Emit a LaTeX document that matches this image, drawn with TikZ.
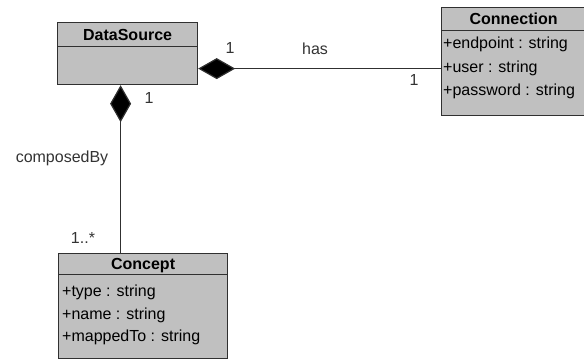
\documentclass[tikz,border=0pt]{standalone}
\usepackage{fontspec}
\setmainfont{Liberation Sans}
\usetikzlibrary{arrows.meta}

\definecolor{umlgray}{HTML}{C0C0C0}
\definecolor{umlline}{HTML}{303030}

\begin{document}
\begin{tikzpicture}[x=1pt,y=-1pt]
    \tikzstyle{head}=[draw=umlline, line width=1.2pt, fill=umlgray, anchor=north west, inner sep=0, text height=11.5pt, text depth=0pt, font=\fontsize{16}{19}\selectfont\bfseries];
    \tikzstyle{body}=[draw=umlline, line width=1.2pt, fill=umlgray, anchor=north west, inner sep=0];
    \tikzstyle{attr}=[anchor=base west, inner sep=0, font=\fontsize{16}{19}\selectfont];
    \tikzstyle{lbl}=[inner sep=0, text=black!80, font=\fontsize{16}{19}\selectfont];
    \tikzstyle{comp}=[draw=umlline, line width=1.2pt, {Diamond[length=37pt,width=21pt,fill=black]}-];

    \useasboundingbox (0,0) rectangle (584,360);

    % classes
    \node[head, minimum width=140pt, minimum height=24pt] at (57,22) (dsHead) {DataSource};
    \node[body, minimum width=140pt, minimum height=38pt] at (57,46) (dsBody) {};

    \node[head, minimum width=144pt, minimum height=23pt] at (441,7) (connHead) {Connection};
    \node[body, minimum width=144pt, minimum height=85pt] at (441,30) (connBody) {};
    \foreach \attr [count=\i] in {+endpoint : string, +user : string, +password : string}
        \node[attr] at (443, 25+23.5*\i) (connAttr\i) {\attr};

    \node[head, minimum width=169pt, minimum height=21pt] at (58,253) (conceptHead) {Concept};
    \node[body, minimum width=169pt, minimum height=84pt] at (58,274) (conceptBody) {};
    \foreach \attr [count=\i] in {+type : string, +name : string, +mappedTo : string}
        \node[attr] at (62, 274+22.5*\i) (conceptAttr\i) {\attr};

    % associations
    \draw[comp] ([yshift=-3pt]dsBody.east) -- ([yshift=-3pt]dsBody.east -| connBody.west);
    \draw[comp] ([xshift=-7pt]dsBody.south) -- ([xshift=-7pt]dsBody.south |- conceptHead.north);

    \node[lbl] at (230,48) (hasSrc) {1};
    \node[lbl] at (315,49) (hasLbl) {has};
    \node[lbl] at (414,80) (hasDst) {1};
    \node[lbl] at (149,98) (compSrc) {1};
    \node[lbl] at (62,158) (compLbl) {composedBy};
    \node[lbl] at (83,238) (compDst) {1..*};
\end{tikzpicture}
\end{document}
